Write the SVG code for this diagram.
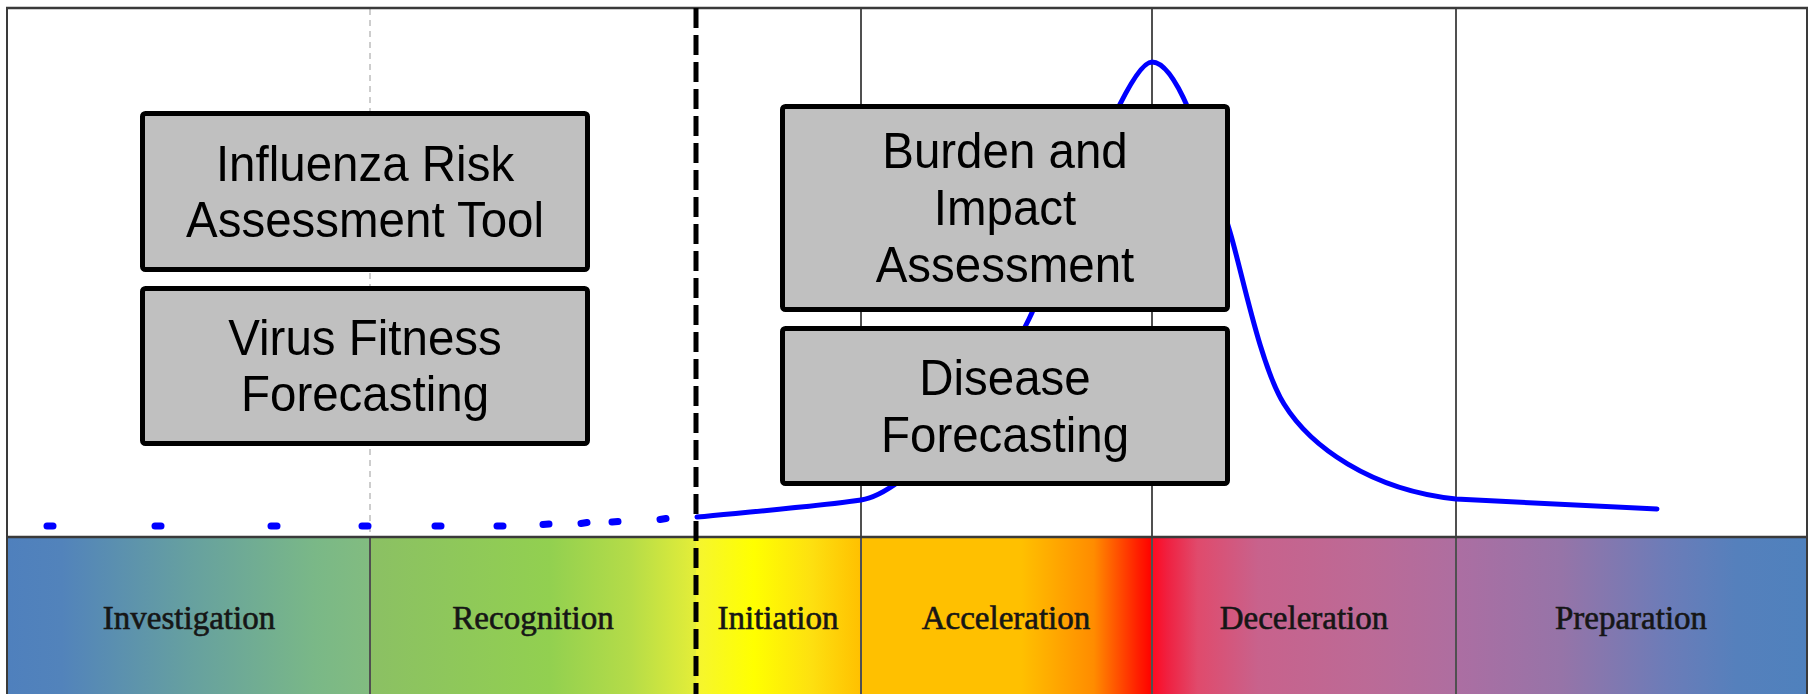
<svg xmlns="http://www.w3.org/2000/svg" width="1812" height="694" viewBox="0 0 1812 694">
<defs>
<style>
.box{fill:#c0c0c0;stroke:#000;stroke-width:5}
.bt{font-family:"Liberation Sans",Arial,sans-serif;font-size:50px;fill:#000;text-anchor:middle}
.lab{font-family:"Liberation Serif","Times New Roman",serif;font-size:33px;fill:#161616;stroke:#161616;stroke-width:0.6;text-anchor:middle}
.vl{stroke:#505050;stroke-width:2;fill:none}
.dot{stroke:#0000ff;stroke-width:7;stroke-linecap:round}
</style>
<linearGradient id="gInv" x1="0" y1="0" x2="1" y2="0">
<stop offset="0" stop-color="#4f80bd"/><stop offset="0.15" stop-color="#5283bb"/><stop offset="0.5" stop-color="#66a0a0"/><stop offset="0.85" stop-color="#7ab887"/><stop offset="1" stop-color="#82bc80"/>
</linearGradient>
<linearGradient id="gRec" x1="0" y1="0" x2="1" y2="0">
<stop offset="0" stop-color="#8bc064"/><stop offset="0.55" stop-color="#92d050"/><stop offset="0.8" stop-color="#b5dc48"/><stop offset="1" stop-color="#e4ee38"/>
</linearGradient>
<linearGradient id="gIni" x1="0" y1="0" x2="1" y2="0">
<stop offset="0" stop-color="#f5f530"/><stop offset="0.35" stop-color="#ffff00"/><stop offset="0.7" stop-color="#fde010"/><stop offset="1" stop-color="#ffc000"/>
</linearGradient>
<linearGradient id="gAcc" x1="0" y1="0" x2="1" y2="0">
<stop offset="0" stop-color="#ffc000"/><stop offset="0.55" stop-color="#ffc000"/><stop offset="0.8" stop-color="#ff8c00"/><stop offset="0.95" stop-color="#ff2000"/><stop offset="1" stop-color="#ff0000"/>
</linearGradient>
<linearGradient id="gDec" x1="0" y1="0" x2="1" y2="0">
<stop offset="0" stop-color="#ff0a20"/><stop offset="0.05" stop-color="#f02040"/><stop offset="0.15" stop-color="#e04a6c"/><stop offset="0.35" stop-color="#c8628c"/><stop offset="0.7" stop-color="#bc6a96"/><stop offset="1" stop-color="#ae6ea0"/>
</linearGradient>
<linearGradient id="gPre" x1="0" y1="0" x2="1" y2="0">
<stop offset="0" stop-color="#ac6ea2"/><stop offset="0.3" stop-color="#9674a8"/><stop offset="0.6" stop-color="#6c7cb8"/><stop offset="0.8" stop-color="#5580bc"/><stop offset="1" stop-color="#4f81bd"/>
</linearGradient>
</defs>
<rect x="0" y="0" width="1812" height="694" fill="#fff"/>
<g id="bands">
<rect x="7" y="537" width="363" height="157" fill="url(#gInv)"/>
<rect x="370" y="537" width="326" height="157" fill="url(#gRec)"/>
<rect x="696" y="537" width="165" height="157" fill="url(#gIni)"/>
<rect x="861" y="537" width="291" height="157" fill="url(#gAcc)"/>
<rect x="1152" y="537" width="304" height="157" fill="url(#gDec)"/>
<rect x="1456" y="537" width="351" height="157" fill="url(#gPre)"/>
<text class="lab" x="189" y="629">Investigation</text>
<text class="lab" x="533" y="629">Recognition</text>
<text class="lab" x="778" y="629">Initiation</text>
<text class="lab" x="1006" y="629">Acceleration</text>
<text class="lab" x="1304" y="629">Deceleration</text>
<text class="lab" x="1631" y="629">Preparation</text>
</g>
<g id="grid">
<line x1="370" y1="9" x2="370" y2="537" stroke="#bdbdbd" stroke-width="1.5" stroke-dasharray="6 5"/>
<line class="vl" x1="370" y1="537" x2="370" y2="694"/>
<line class="vl" x1="861" y1="8" x2="861" y2="694"/>
<line class="vl" x1="1152" y1="8" x2="1152" y2="694"/>
<line class="vl" x1="1456" y1="8" x2="1456" y2="694"/>
<line x1="6" y1="8" x2="1808" y2="8" stroke="#3a3a3a" stroke-width="2.5"/>
<line x1="7" y1="8" x2="7" y2="694" stroke="#3a3a3a" stroke-width="2"/>
<line x1="1807" y1="8" x2="1807" y2="694" stroke="#3a3a3a" stroke-width="2"/>
<line x1="7" y1="537" x2="1807" y2="537" stroke="#3a3a3a" stroke-width="2.5"/>
</g>
<g id="connectors">
<g id="curve-dots">
<line class="dot" x1="47" y1="526" x2="53" y2="526"/>
<line class="dot" x1="155" y1="526" x2="161" y2="526"/>
<line class="dot" x1="271" y1="526" x2="277" y2="526"/>
<line class="dot" x1="362" y1="526" x2="368" y2="526"/>
<line class="dot" x1="435" y1="526" x2="441" y2="526"/>
<line class="dot" x1="497" y1="526" x2="503" y2="526"/>
<line class="dot" x1="543" y1="524.5" x2="549" y2="524"/>
<line class="dot" x1="581" y1="523.5" x2="587" y2="522.5"/>
<line class="dot" x1="612" y1="522" x2="618" y2="521.5"/>
<line class="dot" x1="660" y1="519.5" x2="666" y2="518.5"/>
</g>
<path id="curve" d="M697,517 C760,511 820,506 861,500 C905,494 990,400 1029,319 C1060,255 1125,62 1152,62 C1175,62 1200,130 1230,232 C1242,272 1260,365 1284,404 C1310,446 1370,490 1456,499 C1530,503 1600,506 1657,509" fill="none" stroke="#0000ff" stroke-width="5" stroke-linecap="round"/>
<line id="divider" x1="696" y1="8" x2="696" y2="694" stroke="#000" stroke-width="5" stroke-dasharray="20 7"/>
</g>
<g id="node-irat">
<rect class="box" x="142.5" y="113.5" width="445" height="156" rx="3"/>
<text class="bt" transform="translate(365,181) scale(0.95,1)">Influenza Risk</text>
<text class="bt" transform="translate(365,237) scale(0.95,1)">Assessment Tool</text>
</g>
<g id="node-fitness">
<rect class="box" x="142.5" y="288.5" width="445" height="155" rx="3"/>
<text class="bt" transform="translate(365,355) scale(0.95,1)">Virus Fitness</text>
<text class="bt" transform="translate(365,411) scale(0.95,1)">Forecasting</text>
</g>
<g id="node-burden">
<rect class="box" x="782.5" y="106.5" width="445" height="203" rx="3"/>
<text class="bt" transform="translate(1005,168) scale(0.95,1)">Burden and</text>
<text class="bt" transform="translate(1005,225) scale(0.95,1)">Impact</text>
<text class="bt" transform="translate(1005,282) scale(0.95,1)">Assessment</text>
</g>
<g id="node-disease">
<rect class="box" x="782.5" y="328.5" width="445" height="155" rx="3"/>
<text class="bt" transform="translate(1005,395) scale(0.95,1)">Disease</text>
<text class="bt" transform="translate(1005,452) scale(0.95,1)">Forecasting</text>
</g>
</svg>
